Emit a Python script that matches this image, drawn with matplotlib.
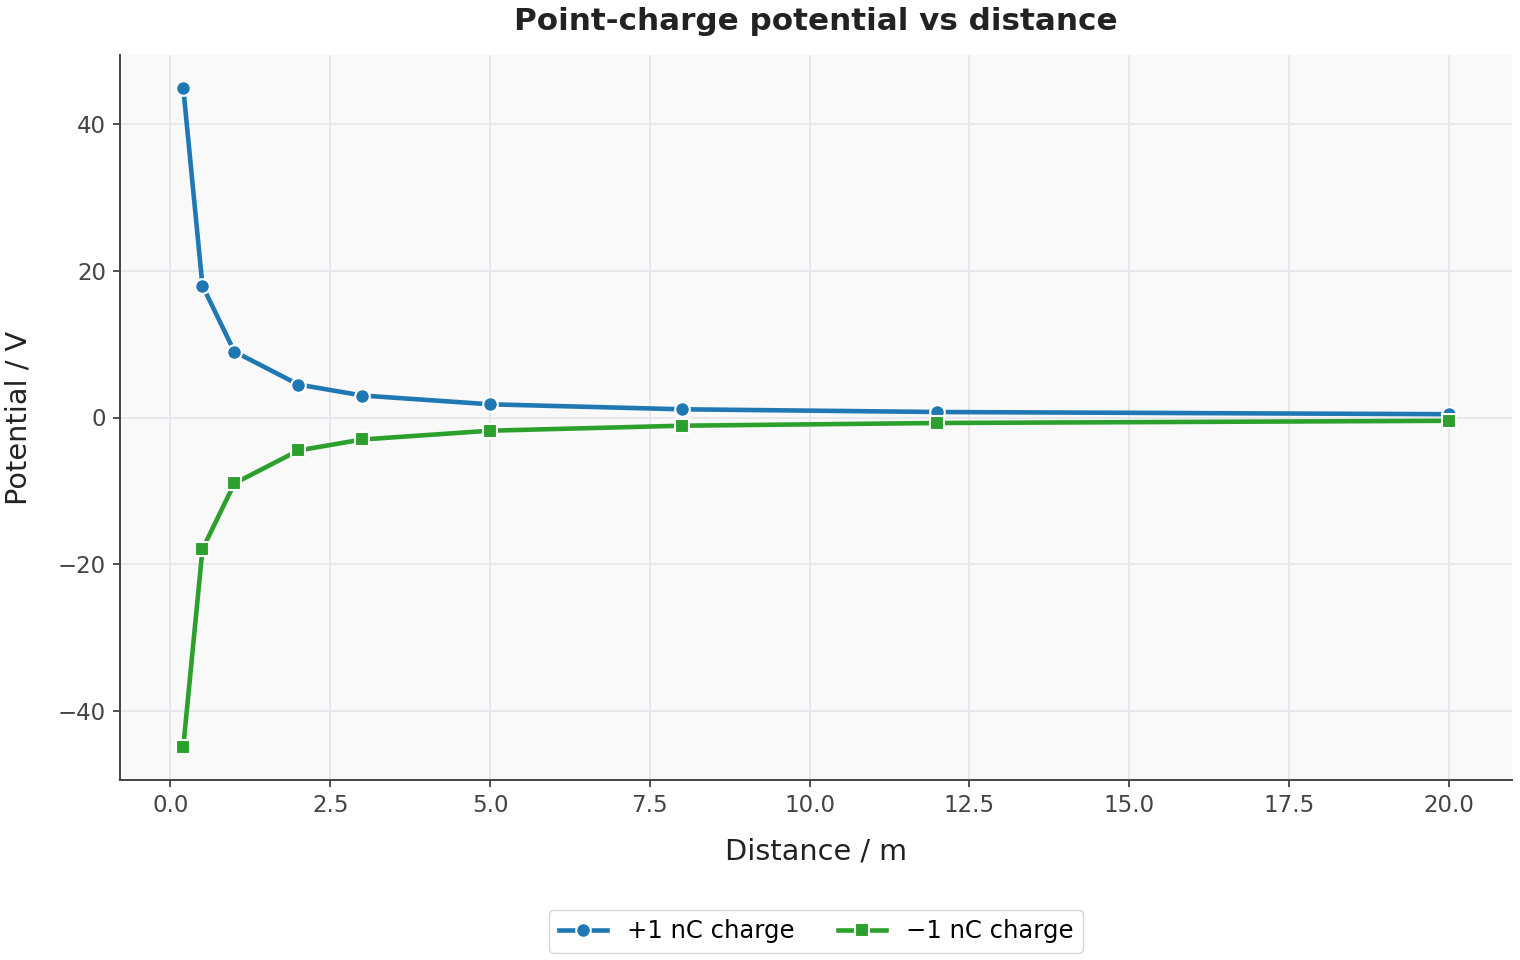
import matplotlib
matplotlib.use("Agg")
import matplotlib.pyplot as plt

# distances (m) and potentials (V)
distance = [0.2, 0.5, 1.0, 2.0, 3.0, 5.0, 8.0, 12.0, 20.0]
v_pos = [44.95, 17.98, 8.99, 4.50, 3.00, 1.80, 1.12, 0.75, 0.45]
v_neg = [-44.95, -17.98, -8.99, -4.50, -3.00, -1.80, -1.12, -0.75, -0.45]

BLUE = "#1f77b4"
GREEN = "#2ca02c"
DARK = "#222222"

fig = plt.figure(figsize=(15.2, 9.6), dpi=100)
ax = fig.add_axes([120/1520, 1 - 780/960, (1512-120)/1520, (780-55)/960])
ax.set_facecolor("#f9f9f9")

ax.plot(distance, v_pos, color=BLUE, lw=3.3, marker="o", ms=10.5,
        mec="white", mew=1.5, label="+1 nC charge", zorder=3)
ax.plot(distance, v_neg, color=GREEN, lw=3.3, marker="s", ms=10.5,
        mec="white", mew=1.5, label="\u22121 nC charge", zorder=3)

ax.grid(True, color="#e4e4ea", lw=1.2)
ax.set_axisbelow(True)
for s in ("top", "right"):
    ax.spines[s].set_visible(False)
for s in ("left", "bottom"):
    ax.spines[s].set_color("#444444")
    ax.spines[s].set_linewidth(1.4)
ax.tick_params(labelsize=16.5, colors="#444444", length=5, width=1.3, pad=5)
for lbl in ax.get_xticklabels() + ax.get_yticklabels():
    lbl.set_color("#444444")

ax.set_xlabel("Distance / m", fontsize=20.7, color=DARK, labelpad=15)
ax.set_ylabel("Potential / V", fontsize=20.7, color=DARK, labelpad=18)
ax.set_title("Point-charge potential vs distance", fontsize=22.3,
             fontweight="bold", color=DARK, pad=18)

ax.legend(loc="upper center", bbox_to_anchor=(0.5, -0.162), ncol=2,
          fontsize=17.5, frameon=True, edgecolor="#cccccc", columnspacing=1.8,
          handlelength=2.0)

fig.savefig("out.png", dpi=100)
